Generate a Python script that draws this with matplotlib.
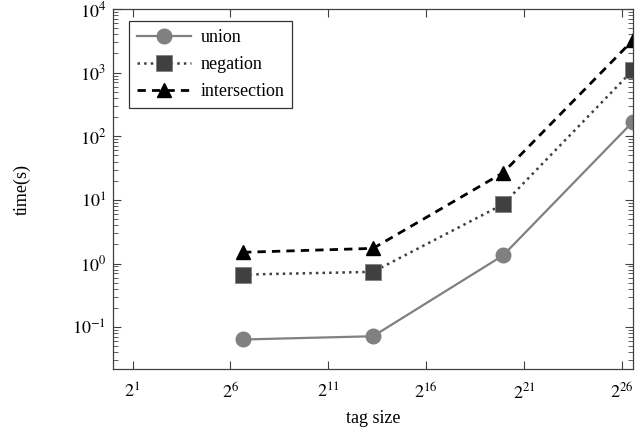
import math
import matplotlib
matplotlib.use("Agg")
import matplotlib.pyplot as plt
from matplotlib.ticker import FixedLocator, FuncFormatter, LogLocator, NullLocator

plt.rcParams['font.family'] = ['Liberation Serif', 'DejaVu Serif']
plt.rcParams['mathtext.fontset'] = 'stix'

# data
tag_size = [1e2, 1e4, 1e6, 1e8]
union = [0.064, 0.072, 1.34, 170]
negation = [0.67, 0.74, 8.5, 1100]
intersection = [1.5, 1.73, 26.7, 3250]

x_ticks = [2**1, 2**6, 2**11, 2**16, 2**21, 2**26]

fig = plt.figure(figsize=(6.44, 4.37), dpi=100)
ax = fig.add_axes([0.1755, 0.1556, 0.8075, 0.8238])

ax.plot(tag_size, union, '-', color='#808080', lw=1.6, marker='o', ms=10.5,
        mfc='#808080', mec='#808080', label='union')
ax.plot(tag_size, negation, ':', color='#404040', lw=1.8, marker='s', ms=11,
        mfc='#404040', mec='#808080', mew=0.6, label='negation')
ax.plot(tag_size, intersection, '--', color='black', lw=2.0, dashes=(3, 2.2),
        marker='^', ms=10, mfc='black', mec='black', label='intersection')

ax.set_xscale('log', base=2)
ax.set_yscale('log')
ax.set_xlim(1, 1e8)
ax.set_ylim(0.022, 1e4)

ax.xaxis.set_major_locator(FixedLocator(x_ticks))
ax.xaxis.set_major_formatter(FuncFormatter(lambda v, p: '$2^{%d}$' % round(math.log2(v))))
ax.xaxis.set_minor_locator(NullLocator())
ax.yaxis.set_major_locator(LogLocator(base=10, numticks=20))
ax.yaxis.set_minor_locator(LogLocator(base=10, subs=range(2, 10), numticks=20))
ax.yaxis.set_major_formatter(FuncFormatter(lambda v, p: '$10^{%d}$' % round(math.log10(v))))

ax.tick_params(which='both', direction='in', top=True, right=True, labelsize=13,
               colors='#404040', labelcolor='black')
ax.tick_params(which='major', length=6, width=0.8)
ax.tick_params(which='minor', length=3.5, width=0.6)
ax.tick_params(axis='x', pad=10)
ax.tick_params(axis='y', pad=5)
for sp in ax.spines.values():
    sp.set_color('#404040')
    sp.set_linewidth(0.9)

ax.set_xlabel('tag size', fontsize=13, labelpad=5)
ax.set_ylabel('time(s)', fontsize=13, labelpad=30)

leg = ax.legend(loc='upper left', fontsize=13, frameon=True, fancybox=False,
                edgecolor='black', handlelength=3.0, borderpad=0.45,
                labelspacing=0.55, handletextpad=0.5, borderaxespad=0,
                bbox_to_anchor=(0.031, 0.967))
leg.get_frame().set_linewidth(0.9)

fig.savefig('out.png', dpi=100)
